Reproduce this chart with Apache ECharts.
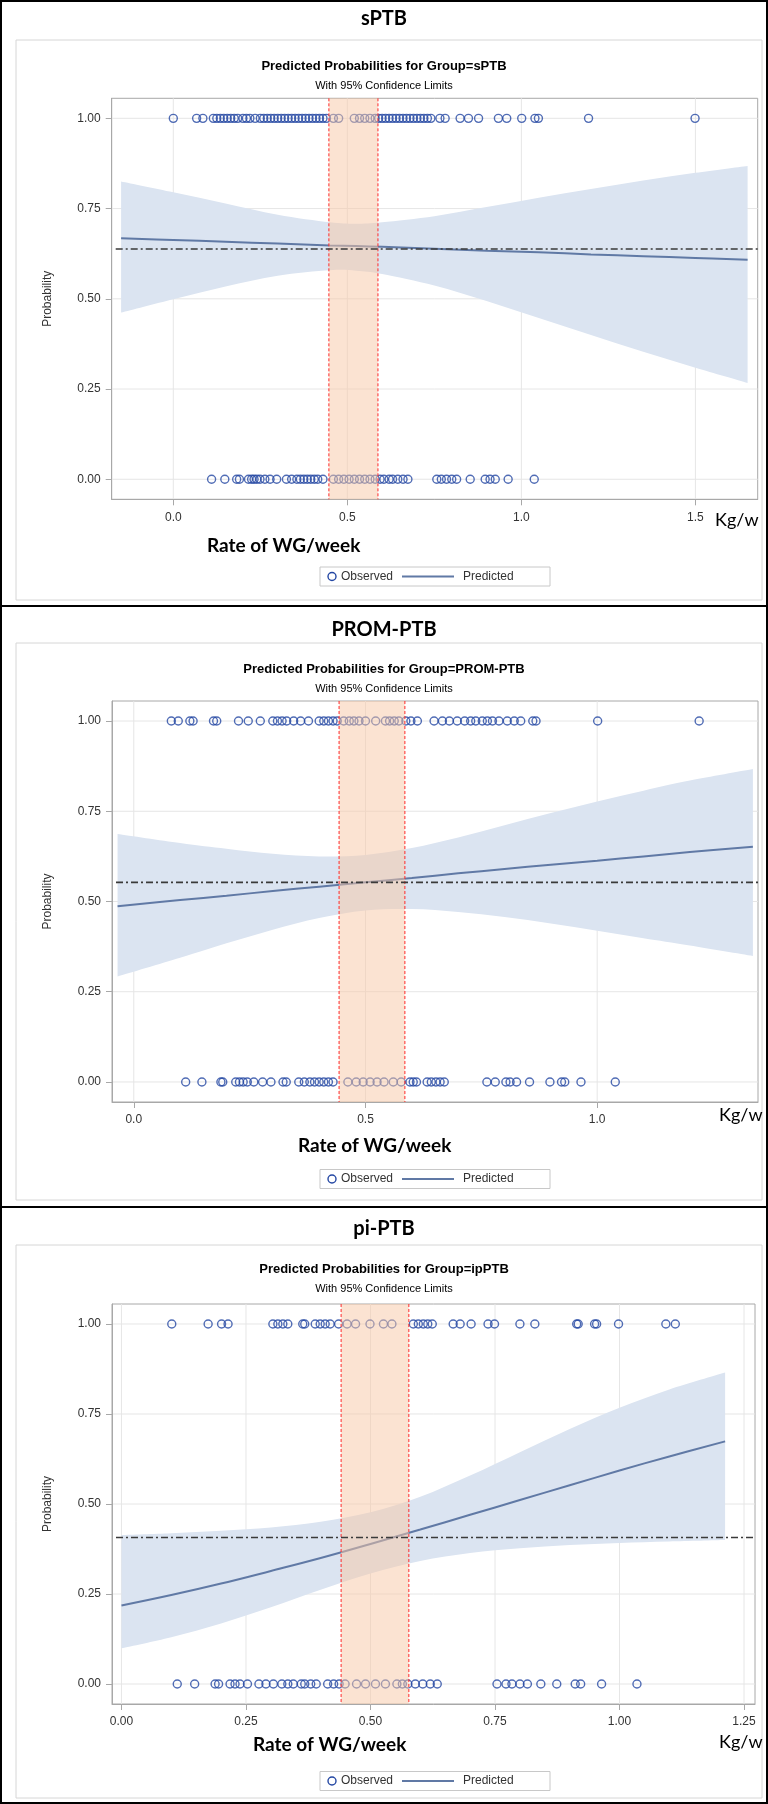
<!DOCTYPE html>
<html><head><meta charset="utf-8">
<script src="https://cdn.jsdelivr.net/npm/echarts@6/dist/echarts.min.js"></script>
<style>html,body{margin:0;padding:0;background:#fff}#c{width:768px;height:1804px}</style>
</head><body><div id="c"></div>
<script>
// ---------------- DATA ----------------
var panelNames = ['sPTB', 'PROM-PTB', 'pi-PTB'];
var chartTitles = ['Predicted Probabilities for Group=sPTB', 'Predicted Probabilities for Group=PROM-PTB', 'Predicted Probabilities for Group=ipPTB'];
var subTitle = 'With 95% Confidence Limits';
var yTicks = [0, 0.25, 0.5, 0.75, 1];
var xTicksSptb = [0, 0.5, 1.0, 1.5];
var xTicksProm = [0, 0.5, 1.0];
var xTicksIp = [0, 0.25, 0.5, 0.75, 1.0, 1.25];

// sPTB
var obs1Sptb = [0.0, 0.067, 0.085, 0.115, 0.125, 0.135, 0.145, 0.155, 0.165, 0.175, 0.185, 0.2, 0.21, 0.22, 0.235, 0.25, 0.26, 0.27, 0.28, 0.29, 0.3, 0.31, 0.32, 0.33, 0.34, 0.35, 0.36, 0.37, 0.38, 0.39, 0.4, 0.41, 0.42, 0.43, 0.44, 0.46, 0.475, 0.52, 0.535, 0.55, 0.565, 0.58, 0.59, 0.6, 0.61, 0.62, 0.63, 0.64, 0.65, 0.66, 0.67, 0.68, 0.69, 0.7, 0.71, 0.72, 0.73, 0.74, 0.766, 0.781, 0.824, 0.848, 0.877, 0.934, 0.958, 1.001, 1.039, 1.049, 1.193, 1.499];
var obs0Sptb = [0.11, 0.148, 0.182, 0.19, 0.216, 0.225, 0.232, 0.24, 0.249, 0.263, 0.278, 0.297, 0.325, 0.34, 0.355, 0.365, 0.375, 0.385, 0.395, 0.405, 0.415, 0.43, 0.46, 0.475, 0.49, 0.505, 0.52, 0.535, 0.55, 0.565, 0.58, 0.594, 0.605, 0.62, 0.63, 0.645, 0.66, 0.674, 0.757, 0.77, 0.785, 0.8, 0.814, 0.853, 0.896, 0.91, 0.925, 0.962, 1.037];
var ciXSptb = [-0.15, 0, 0.15, 0.3, 0.45, 0.525, 0.6, 0.75, 0.9, 1.05, 1.2, 1.35, 1.5, 1.65];
var predSptb = [0.668, 0.663, 0.658, 0.653, 0.648, 0.646, 0.644, 0.639, 0.633, 0.629, 0.623, 0.618, 0.613, 0.608];
var loSptb = [0.462, 0.499, 0.534, 0.564, 0.579, 0.578, 0.569, 0.537, 0.494, 0.447, 0.400, 0.353, 0.309, 0.267];
var hiSptb = [0.825, 0.795, 0.764, 0.733, 0.712, 0.708, 0.712, 0.729, 0.754, 0.780, 0.804, 0.828, 0.849, 0.868];
var refSptb = 0.638;
var bandSptb = [0.447, 0.588];

// PROM-PTB
var obs1Prom = [0.081, 0.096, 0.121, 0.128, 0.172, 0.179, 0.226, 0.247, 0.273, 0.30, 0.31, 0.32, 0.33, 0.345, 0.36, 0.377, 0.40, 0.41, 0.42, 0.43, 0.439, 0.453, 0.465, 0.475, 0.486, 0.50, 0.522, 0.543, 0.552, 0.562, 0.572, 0.587, 0.598, 0.612, 0.648, 0.666, 0.681, 0.698, 0.714, 0.727, 0.738, 0.752, 0.763, 0.774, 0.788, 0.806, 0.821, 0.835, 0.861, 0.868, 1.001, 1.22];
var obs0Prom = [0.112, 0.147, 0.188, 0.192, 0.22, 0.228, 0.236, 0.245, 0.259, 0.278, 0.296, 0.322, 0.329, 0.356, 0.368, 0.38, 0.39, 0.40, 0.41, 0.42, 0.43, 0.462, 0.48, 0.495, 0.51, 0.525, 0.54, 0.56, 0.577, 0.596, 0.603, 0.61, 0.633, 0.642, 0.652, 0.661, 0.67, 0.762, 0.78, 0.803, 0.812, 0.826, 0.854, 0.898, 0.923, 0.93, 0.965, 1.039];
var ciXProm = [-0.035, 0.1, 0.2, 0.3, 0.4, 0.5, 0.6, 0.7, 0.8, 0.9, 1.0, 1.1, 1.2, 1.336];
var predProm = [0.487, 0.504, 0.516, 0.529, 0.541, 0.553, 0.565, 0.578, 0.590, 0.602, 0.613, 0.625, 0.637, 0.652];
var loProm = [0.292, 0.344, 0.384, 0.422, 0.454, 0.475, 0.479, 0.471, 0.457, 0.439, 0.419, 0.398, 0.378, 0.349];
var hiProm = [0.687, 0.662, 0.646, 0.632, 0.625, 0.629, 0.648, 0.677, 0.711, 0.745, 0.777, 0.807, 0.835, 0.867];
var refProm = 0.553;
var bandProm = [0.443, 0.585];

// ipPTB
var obs1Ip = [0.101, 0.174, 0.201, 0.214, 0.304, 0.314, 0.324, 0.334, 0.364, 0.368, 0.389, 0.399, 0.409, 0.419, 0.436, 0.453, 0.47, 0.499, 0.526, 0.543, 0.586, 0.596, 0.606, 0.615, 0.624, 0.666, 0.68, 0.702, 0.736, 0.749, 0.80, 0.83, 0.914, 0.917, 0.95, 0.954, 0.998, 1.093, 1.112];
var obs0Ip = [0.112, 0.147, 0.188, 0.195, 0.218, 0.228, 0.238, 0.253, 0.276, 0.29, 0.305, 0.322, 0.334, 0.345, 0.361, 0.368, 0.38, 0.391, 0.414, 0.426, 0.437, 0.449, 0.472, 0.49, 0.51, 0.53, 0.553, 0.564, 0.575, 0.59, 0.605, 0.62, 0.634, 0.754, 0.772, 0.784, 0.8, 0.815, 0.842, 0.874, 0.911, 0.922, 0.964, 1.035];
var ciXIp = [0, 0.1, 0.2, 0.3, 0.4, 0.5, 0.6, 0.7, 0.8, 0.9, 1.0, 1.1, 1.212];
var predIp = [0.218, 0.247, 0.279, 0.314, 0.350, 0.389, 0.429, 0.470, 0.511, 0.552, 0.593, 0.632, 0.674];
var loIp = [0.099, 0.130, 0.168, 0.213, 0.262, 0.307, 0.342, 0.364, 0.377, 0.386, 0.392, 0.396, 0.400];
var hiIp = [0.414, 0.419, 0.426, 0.435, 0.451, 0.477, 0.520, 0.579, 0.644, 0.708, 0.767, 0.818, 0.865];
var refIp = 0.407;
var bandIp = [0.441, 0.577];

// ---------------- LAYOUT / STYLE ----------------
var panels = [
  {obs1: obs1Sptb, obs0: obs0Sptb, ciX: ciXSptb, pred: predSptb, lo: loSptb, hi: hiSptb, ref: refSptb, band: bandSptb, xTicks: xTicksSptb, dec: 1,
   L: 111.7, R: 757.7, T: 98.3, B: 499.3, xMin: -0.177, xMax: 1.679,
   titleY: 4, ctY: 55, stY: 75, frame: [16, 40, 746, 560], legY: 576.5, wgX: 207, wgY: 546, kgX: 715, kgY: 520},
  {obs1: obs1Prom, obs0: obs0Prom, ciX: ciXProm, pred: predProm, lo: loProm, hi: hiProm, ref: refProm, band: bandProm, xTicks: xTicksProm, dec: 1,
   L: 112, R: 758, T: 701, B: 1102, xMin: -0.047, xMax: 1.347,
   titleY: 615, ctY: 658, stY: 678, frame: [16, 643, 746, 557], legY: 1179, wgX: 298, wgY: 1146, kgX: 719, kgY: 1115},
  {obs1: obs1Ip, obs0: obs0Ip, ciX: ciXIp, pred: predIp, lo: loIp, hi: hiIp, ref: refIp, band: bandIp, xTicks: xTicksIp, dec: 2,
   L: 112, R: 755, T: 1304, B: 1704, xMin: -0.019, xMax: 1.272,
   titleY: 1214, ctY: 1258, stY: 1278, frame: [16, 1245, 746, 553], legY: 1781, wgX: 253, wgY: 1745, kgX: 719, kgY: 1742}
];
var Y_MIN = -0.0555, Y_MAX = 1.0555;
var SAS = "'Liberation Sans', Arial, sans-serif";
var CAL = "Lato, 'Open Sans', sans-serif";
var axisGray = '#a8a8a8';
var gridGray = '#e6e6e6';
var obsColor = '#2447a3';
var predColor = '#6079a5';
var ciColor = '#dbe4f1';

// Catmull-Rom smooth path through pixel points (drawing helper only)
function crPath(pts) {
  var s = '';
  for (var k = 0; k < pts.length - 1; k++) {
    var p0 = pts[k > 0 ? k - 1 : k], p1 = pts[k], p2 = pts[k + 1], p3 = pts[k + 2 < pts.length ? k + 2 : k + 1];
    var c1x = p1[0] + (p2[0] - p0[0]) / 6, c1y = p1[1] + (p2[1] - p0[1]) / 6;
    var c2x = p2[0] - (p3[0] - p1[0]) / 6, c2y = p2[1] - (p3[1] - p1[1]) / 6;
    s += ' C' + c1x.toFixed(2) + ' ' + c1y.toFixed(2) + ' ' + c2x.toFixed(2) + ' ' + c2y.toFixed(2) + ' ' + p2[0].toFixed(2) + ' ' + p2[1].toFixed(2);
  }
  return s;
}

var option = {animation: false, backgroundColor: '#fff', title: [], grid: [], xAxis: [], yAxis: [], series: [], graphic: []};

panels.forEach(function (p, i) {
  option.title.push({text: panelNames[i], left: 'center', top: p.titleY, textStyle: {fontFamily: CAL, fontWeight: 'bold', fontSize: 20, color: '#000'}});
  option.title.push({text: chartTitles[i], left: 'center', top: p.ctY, textStyle: {fontFamily: SAS, fontWeight: 'bold', fontSize: 13, color: '#000'}});
  option.title.push({text: subTitle, left: 'center', top: p.stY, textStyle: {fontFamily: SAS, fontWeight: 'normal', fontSize: 11, color: '#000'}});

  option.grid.push({left: p.L, top: p.T, width: p.R - p.L, height: p.B - p.T, show: true, borderColor: axisGray, borderWidth: 1, backgroundColor: 'rgba(0,0,0,0)', outerBoundsMode: 'none', containLabel: false});

  option.xAxis.push({type: 'value', gridIndex: i, min: p.xMin, max: p.xMax,
    axisLine: {show: true, onZero: false, lineStyle: {color: axisGray}},
    axisTick: {show: true, length: 6, customValues: p.xTicks, lineStyle: {color: axisGray}},
    axisLabel: {customValues: p.xTicks, margin: 12, fontFamily: SAS, fontSize: 12, color: '#333',
      formatter: (function (d) { return function (v) { return v.toFixed(d); }; })(p.dec)},
    splitLine: {show: false}});
  option.yAxis.push({type: 'value', gridIndex: i, min: Y_MIN, max: Y_MAX,
    name: 'Probability', nameLocation: 'middle', nameGap: 58, nameTextStyle: {fontFamily: SAS, fontSize: 12, color: '#333'},
    axisLine: {show: true, onZero: false, lineStyle: {color: axisGray}},
    axisTick: {show: true, length: 6, customValues: yTicks, lineStyle: {color: axisGray}},
    axisLabel: {customValues: yTicks, margin: 11, fontFamily: SAS, fontSize: 12, color: '#333',
      formatter: function (v) { return v.toFixed(2); }},
    splitLine: {show: false}});

  // gridlines (vertical)
  option.series.push({type: 'custom', xAxisIndex: i, yAxisIndex: i, z: 0, silent: true,
    data: p.xTicks.map(function (v) { return [v]; }), encode: {x: 0},
    renderItem: function (params, api) {
      var a = api.coord([api.value(0), Y_MAX]), b = api.coord([api.value(0), Y_MIN]);
      return {type: 'line', shape: {x1: a[0], y1: a[1], x2: b[0], y2: b[1]}, style: {stroke: gridGray, lineWidth: 1}};
    }});
  // gridlines (horizontal)
  option.series.push({type: 'custom', xAxisIndex: i, yAxisIndex: i, z: 0, silent: true,
    data: yTicks.map(function (v) { return [v]; }), encode: {y: 0},
    renderItem: (function (p) { return function (params, api) {
      var a = api.coord([p.xMin, api.value(0)]), b = api.coord([p.xMax, api.value(0)]);
      return {type: 'line', shape: {x1: a[0], y1: a[1], x2: b[0], y2: b[1]}, style: {stroke: gridGray, lineWidth: 1}};
    }; })(p)});

  // 95% confidence band
  option.series.push({type: 'custom', xAxisIndex: i, yAxisIndex: i, z: 1, silent: true,
    data: p.ciX.map(function (x, k) { return [x, p.lo[k], p.hi[k]]; }), encode: {x: 0, y: [1, 2]},
    renderItem: (function (p) { return function (params, api) {
      if (params.dataIndex !== 0) return null;
      var up = p.ciX.map(function (x, k) { return api.coord([x, p.hi[k]]); });
      var dn = p.ciX.map(function (x, k) { return api.coord([x, p.lo[k]]); }).reverse();
      var d = 'M' + up[0][0] + ' ' + up[0][1] + crPath(up) + ' L' + dn[0][0] + ' ' + dn[0][1] + crPath(dn) + ' Z';
      return {type: 'path', shape: {pathData: d}, style: {fill: ciColor}};
    }; })(p)});

  // predicted
  option.series.push({name: 'Predicted', type: 'line', xAxisIndex: i, yAxisIndex: i, z: 2, silent: true,
    data: p.ciX.map(function (x, k) { return [x, p.pred[k]]; }),
    symbol: 'none', smooth: 0.4, lineStyle: {color: predColor, width: 2}});

  // observed
  option.series.push({name: 'Observed', type: 'scatter', xAxisIndex: i, yAxisIndex: i, z: 3, silent: true,
    data: p.obs1.map(function (x) { return [x, 1]; }).concat(p.obs0.map(function (x) { return [x, 0]; })),
    symbol: 'circle', symbolSize: 8,
    itemStyle: {color: 'rgba(0,0,0,0)', borderColor: obsColor, borderWidth: 1.4}});

  // highlighted range band + red dashed edges
  option.series.push({type: 'custom', xAxisIndex: i, yAxisIndex: i, z: 5, silent: true,
    data: [p.band], encode: {x: [0, 1]},
    renderItem: function (params, api) {
      var a = api.coord([api.value(0), Y_MAX]), b = api.coord([api.value(1), Y_MIN]);
      return {type: 'group', children: [
        {type: 'rect', shape: {x: a[0], y: a[1], width: b[0] - a[0], height: b[1] - a[1]}, style: {fill: 'rgba(247,200,166,0.5)'}},
        {type: 'line', shape: {x1: a[0], y1: a[1], x2: a[0], y2: b[1]}, style: {stroke: '#ff2a2a', lineWidth: 1, lineDash: [3, 2]}},
        {type: 'line', shape: {x1: b[0], y1: a[1], x2: b[0], y2: b[1]}, style: {stroke: '#ff2a2a', lineWidth: 1, lineDash: [3, 2]}}
      ]};
    }});

  // reference dash-dot line
  option.series.push({type: 'custom', xAxisIndex: i, yAxisIndex: i, z: 6, silent: true,
    data: [[p.ref]], encode: {y: 0},
    renderItem: (function (p) { return function (params, api) {
      var a = api.coord([p.xMin, api.value(0)]), b = api.coord([p.xMax, api.value(0)]);
      return {type: 'line', shape: {x1: a[0] + 4, y1: a[1], x2: b[0], y2: b[1]}, style: {stroke: '#3a3a3a', lineWidth: 1.6, lineDash: [7, 3, 2, 3]}};
    }; })(p)});

  // frames, axis names, legend
  var f = p.frame;
  option.graphic.push({type: 'rect', silent: true, shape: {x: f[0], y: f[1], width: f[2], height: f[3]}, style: {fill: 'none', stroke: '#d6d6d6', lineWidth: 1}, z: -1});
  option.graphic.push({type: 'text', silent: true, x: p.wgX, y: p.wgY, style: {text: 'Rate of WG/week', fontFamily: CAL, fontWeight: 'bold', fontSize: 19, fill: '#000', verticalAlign: 'middle'}});
  option.graphic.push({type: 'text', silent: true, x: p.kgX, y: p.kgY, style: {text: 'Kg/w', fontFamily: CAL, fontSize: 18, fill: '#000', verticalAlign: 'middle'}});
  var lx = 320, ly = p.legY;
  option.graphic.push({type: 'rect', silent: true, shape: {x: lx, y: ly - 9.5, width: 230, height: 19}, style: {fill: '#fff', stroke: '#c8c8c8', lineWidth: 1}});
  option.graphic.push({type: 'circle', silent: true, shape: {cx: lx + 12, cy: ly, r: 4}, style: {fill: 'none', stroke: obsColor, lineWidth: 1.4}});
  option.graphic.push({type: 'text', silent: true, x: lx + 21, y: ly, style: {text: 'Observed', fontFamily: SAS, fontSize: 12, fill: '#333', verticalAlign: 'middle'}});
  option.graphic.push({type: 'line', silent: true, shape: {x1: lx + 82, y1: ly, x2: lx + 134, y2: ly}, style: {stroke: predColor, lineWidth: 2}});
  option.graphic.push({type: 'text', silent: true, x: lx + 143, y: ly, style: {text: 'Predicted', fontFamily: SAS, fontSize: 12, fill: '#333', verticalAlign: 'middle'}});
});

// outer border and panel separators
option.graphic.push({type: 'rect', silent: true, shape: {x: 1, y: 1, width: 766, height: 1802}, style: {fill: 'none', stroke: '#000', lineWidth: 2}});
option.graphic.push({type: 'line', silent: true, shape: {x1: 0, y1: 606, x2: 768, y2: 606}, style: {stroke: '#000', lineWidth: 2}});
option.graphic.push({type: 'line', silent: true, shape: {x1: 0, y1: 1207, x2: 768, y2: 1207}, style: {stroke: '#000', lineWidth: 2}});

var chart = echarts.init(document.getElementById('c'), null, {renderer: 'canvas'});
chart.setOption(option);
</script></body></html>
